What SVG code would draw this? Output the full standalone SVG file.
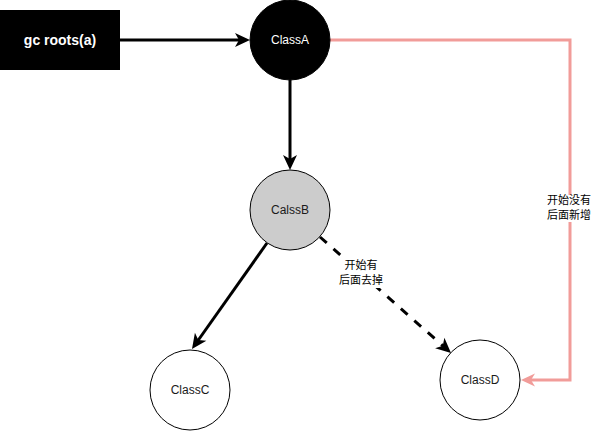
<svg xmlns="http://www.w3.org/2000/svg" width="591" height="431" viewBox="0 0 591 431">
<style>
.t{font-family:"Liberation Sans","Noto Sans CJK SC",Arial,sans-serif;text-anchor:middle;}
.node{font-size:12px;}
.lbl{font-size:11px;fill:#000;}
.edge{fill:none;stroke:#000;stroke-width:3;}
.red{fill:none;stroke:#F19C99;stroke-width:3;}
</style>
<defs>
<marker id="ab" markerUnits="userSpaceOnUse" markerWidth="20" markerHeight="20" viewBox="-10 -10 20 20" refX="0" refY="0" orient="auto" overflow="visible">
<path d="M8,0 L-7,-7 L-3,0 L-7,7 Z" fill="#000"/>
</marker>
<marker id="ar" markerUnits="userSpaceOnUse" markerWidth="20" markerHeight="20" viewBox="-10 -10 20 20" refX="0" refY="0" orient="auto" overflow="visible">
<path d="M8,0 L-6,-6.5 L-2,0 L-6,6.5 Z" fill="#F19C99"/>
</marker>
</defs>
<rect width="591" height="431" fill="#fff"/>
<g id="connectors">
<line class="edge" x1="120" y1="40" x2="242" y2="40" marker-end="url(#ab)"/>
<line class="edge" x1="290" y1="80" x2="290" y2="162" marker-end="url(#ab)"/>
<line class="edge" x1="267" y1="243" x2="196.6" y2="342.5" marker-end="url(#ab)"/>
<line class="edge" x1="320" y1="237" x2="445" y2="347.7" stroke-dasharray="9 9" marker-end="url(#ab)"/>
<path class="red" d="M330,40 H570 V380 H529" marker-end="url(#ar)"/>
<g id="label-removed">
<rect x="340" y="257" width="44" height="31" fill="#fff"/>
<text class="t lbl" x="361" y="269">开始有</text>
<text class="t lbl" x="361" y="284">后面去掉</text>
</g>
<g id="label-added">
<rect x="547" y="195" width="46" height="27" fill="#fff"/>
<text class="t lbl" x="569" y="204">开始没有</text>
<text class="t lbl" x="569" y="219">后面新增</text>
</g>
</g>
<g id="gcroots">
<rect x="0" y="10" width="120" height="60" fill="#000"/>
<text class="t" x="60" y="45" font-size="14" font-weight="bold" fill="#fff">gc roots(a)</text>
</g>
<g id="ClassA">
<circle cx="290" cy="40" r="40" fill="#000" stroke="#000"/>
<text class="t node" x="290" y="44" fill="#fff">ClassA</text>
</g>
<g id="CalssB">
<circle cx="290" cy="210" r="40" fill="#ccc" stroke="#000"/>
<text class="t node" x="290" y="214" fill="#1a1a1a">CalssB</text>
</g>
<g id="ClassC">
<circle cx="190" cy="390" r="40" fill="#fff" stroke="#000"/>
<text class="t node" x="190" y="394" fill="#1a1a1a">ClassC</text>
</g>
<g id="ClassD">
<circle cx="480" cy="380" r="40" fill="#fff" stroke="#000"/>
<text class="t node" x="480" y="384" fill="#1a1a1a">ClassD</text>
</g>
</svg>
